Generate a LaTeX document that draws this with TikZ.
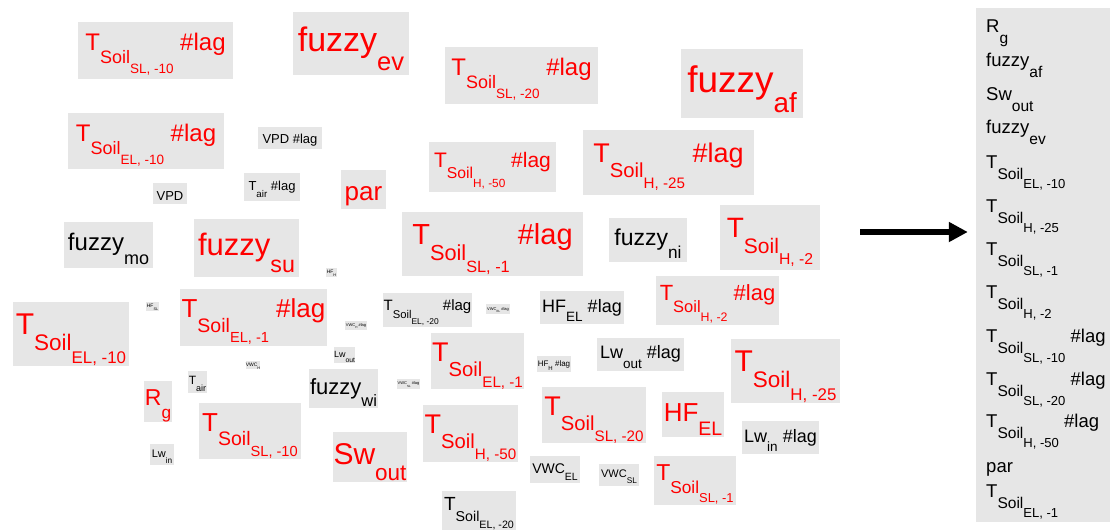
\documentclass[tikz,border=0pt]{standalone}
\usepackage{fontspec}
\setmainfont{Liberation Sans}
\usepackage{graphicx}
\usepackage{xcolor}
\usepackage{tikz}
\usetikzlibrary{arrows.meta}
\definecolor{boxgray}{HTML}{E6E6E6}
\newcommand\subscale{0.75}
\newcommand\subdrop{0.55em}
\newcommand\lo[1]{\raisebox{-\subdrop}{\scalebox{\subscale}{#1}}}
\newcommand\ts[1]{T\lo{Soil\lo{#1}}}
\newcommand\lag{\ \#lag}
\tikzset{
    word/.style = {fill=boxgray, inner sep=0pt, text=black, execute at begin node={\rule{0pt}{1.05em}}},
    hot/.style = {word, text=red},
    fs/.style = {font=\fontsize{#1}{#1}\selectfont},
    spot/.style n args = {4}{minimum width={#3-#1}, minimum height={#4-#2}, at={({(#1+#3)/2},{(#2+#4)/2})}},
    listitem/.style = {anchor=base west, inner sep=0pt, font=\fontsize{18.5}{18.5}\selectfont\def\subscale{0.84}\def\subdrop{0.6em}}
}
\begin{document}
\begin{tikzpicture}[x=1pt, y=-1pt]
    \useasboundingbox (0,0) rectangle (1110,531);

    % Cloud, upper part
    \node [hot, fs=24, spot={78}{22}{233}{79}] (tslten) {\ts{SL, -10}\lag};
    \node [hot, fs=34, spot={293}{12}{409}{75}] (fev) {fuzzy\lo{ev}};
    \node [hot, fs=24, spot={445}{47}{598}{104}] (tsltwenty) {\ts{SL, -20}\lag};
    \node [hot, fs=37, spot={681}{49}{803}{118}] (faf) {fuzzy\lo{af}};
    \node [hot, fs=24, spot={68}{113}{224}{169}] (telten) {\ts{EL, -10}\lag};
    \node [word, fs=13, spot={258}{127}{322}{149}] (vpdlag) {VPD\lag};
    \node [hot, fs=21, spot={429}{142}{556}{192}] (thfifty) {\ts{H, -50}\lag};
    \node [hot, fs=27, spot={583}{130}{754}{195}] (thtwentyfive) {\ts{H, -25}\lag};
    \node [word, fs=13, spot={153}{183}{187}{204}] (vpd) {VPD};
    \node [word, fs=13, spot={244}{173}{300}{201}] (tairlag) {T\lo{air}\lag};
    \node [hot, fs=26, spot={341}{170}{386}{209}] (par) {par};
    \node [word, fs=24, spot={64}{222}{153}{268}] (fmo) {fuzzy\lo{mo}};
    \node [hot, fs=31, spot={194}{219}{299}{277}] (fsu) {fuzzy\lo{su}};
    \node [hot, fs=29, spot={402}{212}{583}{276}] (tslone) {\ts{SL, -1}\lag};
    \node [word, fs=23, spot={609}{218}{687}{262}] (fni) {fuzzy\lo{ni}};
    \node [hot, fs=28, spot={720}{205}{820}{270}] (thtwo) {\ts{H, -2}};

    % Cloud, lower part
    \node [word, fs=5, spot={326}{268}{337}{277}] (hfh) {HF\lo{H}};
    \node [hot, fs=30, spot={13}{302}{129}{366}] (teltenb) {\ts{EL, -10}};
    \node [word, fs=5, spot={146}{302}{159}{311}] (hfsl) {HF\lo{SL}};
    \node [hot, fs=26, spot={180}{289}{327}{346}] (telonelag) {\ts{EL, -1}\lag};
    \node [word, fs=15, spot={383}{293}{472}{327}] (teltwentylag) {\ts{EL, -20}\lag};
    \node [word, fs=4, spot={345}{321}{367}{330}] (vwchlag) {VWC\lo{H}\lag};
    \node [word, fs=4, spot={486}{304}{510}{314}] (vwcellag) {VWC\lo{EL}\lag};
    \node [word, fs=18, spot={540}{291}{624}{324}] (hfellag) {HF\lo{EL}\lag};
    \node [hot, fs=22, spot={656}{276}{779}{325}] (thtwolag) {\ts{H, -2}\lag};
    \node [word, fs=9, spot={334}{347}{355}{363}] (lwout) {Lw\lo{out}};
    \node [word, fs=5, spot={246}{361}{260}{369}] (vwch) {VWC\lo{H}};
    \node [word, fs=12, spot={188}{371}{207}{393}] (tair) {T\lo{air}};
    \node [hot, fs=27, spot={431}{333}{524}{389}] (telone) {\ts{EL, -1}};
    \node [word, fs=8, spot={537}{356}{571}{372}] (hfhlag) {HF\lo{H}\lag};
    \node [word, fs=18, spot={597}{338}{684}{371}] (lwoutlag) {Lw\lo{out}\lag};
    \node [hot, fs=30, spot={731}{339}{840}{403}] (thtwentyfiveb) {\ts{H, -25}};
    \node [word, fs=22, spot={309}{369}{378}{408}] (fwi) {fuzzy\lo{wi}};
    \node [word, fs=4, spot={397}{379}{420}{389}] (vwcsllag) {VWC\lo{SL}\lag};
    \node [hot, fs=23, spot={144}{382}{172}{421}] (rg) {R\lo{g}};
    \node [hot, fs=26, spot={199}{403}{301}{459}] (tsltenb) {\ts{SL, -10}};
    \node [word, fs=11, spot={150}{444}{174}{465}] (lwin) {Lw\lo{in}};
    \node [hot, fs=30, spot={333}{432}{407}{482}] (swout) {Sw\lo{out}};
    \node [hot, fs=27, spot={423}{405}{518}{462}] (thfiftyb) {\ts{H, -50}};
    \node [hot, fs=27, spot={542}{387}{646}{443}] (tsltwentyb) {\ts{SL, -20}};
    \node [hot, fs=26, spot={662}{392}{724}{437}] (hfel) {HF\lo{EL}};
    \node [word, fs=18, spot={742}{421}{819}{454}] (lwinlag) {Lw\lo{in}\lag};
    \node [word, fs=14, spot={530}{456}{580}{483}] (vwcel) {VWC\lo{EL}};
    \node [word, fs=11, spot={599}{464}{639}{486}] (vwcsl) {VWC\lo{SL}};
    \node [hot, fs=23, spot={654}{456}{736}{505}] (tsloneb) {\ts{SL, -1}};
    \node [word, fs=19, spot={442}{492}{516}{529}] (teltwenty) {\ts{EL, -20}};

    % Ranking
    \node [fill=boxgray, inner sep=0pt, spot={976}{8}{1115}{522}] (ranking) {};
    \node [listitem] (r1) at (986,32) {R\lo{g}};
    \node [listitem] (r2) at (986,66) {fuzzy\lo{af}};
    \node [listitem] (r3) at (986,100) {Sw\lo{out}};
    \node [listitem] (r4) at (986,133) {fuzzy\lo{ev}};
    \node [listitem] (r5) at (986,168) {\ts{EL, -10}};
    \node [listitem] (r6) at (986,212) {\ts{H, -25}};
    \node [listitem] (r7) at (986,255) {\ts{SL, -1}};
    \node [listitem] (r8) at (986,298) {\ts{H, -2}};
    \node [listitem] (r9) at (986,342) {\ts{SL, -10}\lag};
    \node [listitem] (r10) at (986,385) {\ts{SL, -20}\lag};
    \node [listitem] (r11) at (986,427) {\ts{H, -50}\lag};
    \node [listitem] (r12) at (986,472) {par};
    \node [listitem] (r13) at (986,497) {\ts{EL, -1}};

    % Arrow
    \coordinate (arrowstart) at (860,232);
    \draw [line width=5.5pt, -{Triangle[length=19pt, width=19pt]}, shorten >=8pt] (arrowstart) -- (arrowstart -| ranking.west);
\end{tikzpicture}
\end{document}
